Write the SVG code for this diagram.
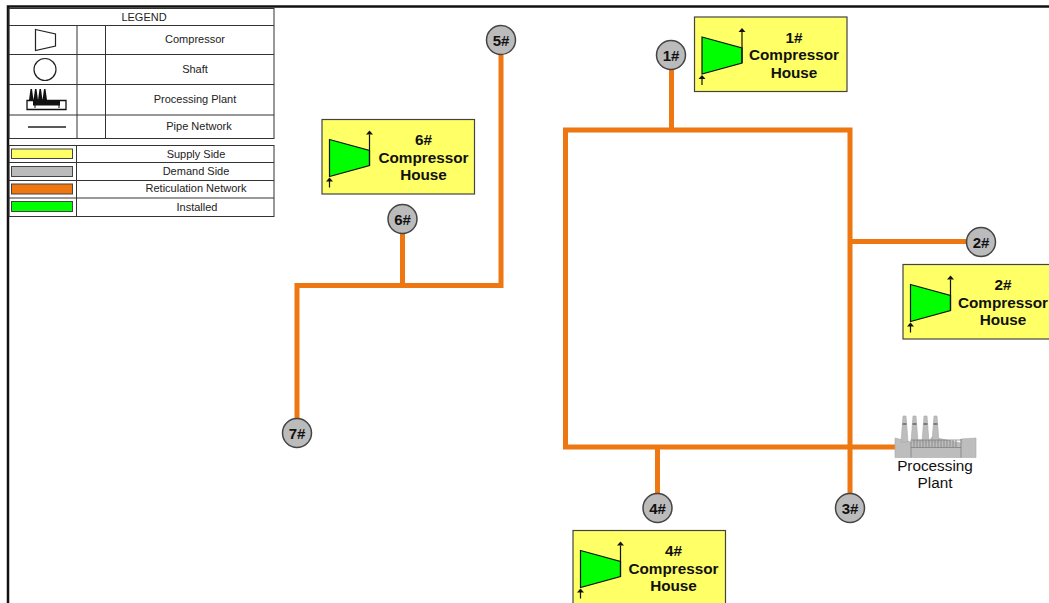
<svg xmlns="http://www.w3.org/2000/svg" xmlns:xlink="http://www.w3.org/1999/xlink" width="1049" height="603" viewBox="0 0 1049 603">
<style>
text{font-family:"Liberation Sans",Arial,sans-serif;text-anchor:middle;fill:#111}
.lg{font-size:11px;fill:#222}
.cell{fill:none;stroke:#333;stroke-width:1}
.pipe{fill:none;stroke:#ee7711;stroke-width:5;stroke-linejoin:miter}
.house{fill:#ffff66;stroke:#444;stroke-width:1.2}
.comp{fill:#00ff00;stroke:#111;stroke-width:1.2}
.ar{fill:none;stroke:#111;stroke-width:1.2}
.head{fill:#111}
.t{font-size:15.300px;font-weight:bold}
.sh{fill:#bbbbbb;stroke:#444;stroke-width:1.500}
.sl{font-size:15px;font-weight:bold}
.fac{fill:#bdbdbd;stroke:#aaa;stroke-width:.6}
.facd{fill:none;stroke:#777;stroke-width:.7}
</style>
<defs>
<g id="ch">
<rect class="house" x="694.500" y="17" width="152.500" height="74.500"/>
<path class="comp" d="M702 37L742 48V63L702 74Z"/>
<path class="ar" d="M742 63V32M702 85V76"/>
<path class="head" d="M738.500 32L742 28L745.500 32ZM698.500 79L702 75L705.500 79Z"/>
</g>
</defs>
<rect width="1049" height="603" fill="#fff"/>
<path d="M8 603V6.500H1049" fill="none" stroke="#111" stroke-width="2.500"/>
<g id="legend">
<rect class="cell" x="9" y="8.500" width="265" height="130"/>
<path class="cell" d="M9 25.500H274M9 54.500H274M9 84.500H274M9 115H274M77 25.500V138.500M105.500 25.500V138.500"/>
<rect class="cell" x="9" y="145.500" width="265" height="71"/>
<path class="cell" d="M9 162.500H274M9 180.500H274M9 198H274M76.500 145.500V216.500"/>
<path d="M35.500 29.500L55.500 34V46L35.500 50.500Z" fill="none" stroke="#222" stroke-width="1.200"/>
<circle cx="45" cy="69.500" r="11" fill="none" stroke="#222" stroke-width="1.200"/>
<g id="legend-plant">
<path d="M27 100.500V109.500H66V100.500Z" fill="#fff" stroke="#111" stroke-width="1.300"/>
<path d="M29 100L30.500 89H32L33.500 100ZM33.500 100L35 89H36.500L38 100ZM38 100L39.500 89H41L42.500 100ZM42.500 100L44 89H45.500L47 100ZM33 100H60V105.500H33Z" fill="#111"/>
<path d="M35 100V108M59 100V108" stroke="#111" stroke-width="1"/>
</g>
<path d="M28 127H66" stroke="#222" stroke-width="1.300"/>
<rect x="11.500" y="149" width="61" height="9.500" fill="#ffff66" stroke="#444"/>
<rect x="11.500" y="166.500" width="61" height="10" fill="#bbbbbb" stroke="#444"/>
<rect x="11.500" y="184" width="61" height="10" fill="#ee7711" stroke="#444"/>
<rect x="11.500" y="201.500" width="61" height="10" fill="#00ff00" stroke="#444"/>
<text class="lg" x="144" y="20.500">LEGEND</text>
<text class="lg" x="195" y="43">Compressor</text>
<text class="lg" x="195" y="73">Shaft</text>
<text class="lg" x="195" y="103">Processing Plant</text>
<text class="lg" x="199" y="129.500">Pipe Network</text>
<text class="lg" x="196" y="158">Supply Side</text>
<text class="lg" x="196" y="175">Demand Side</text>
<text class="lg" x="196" y="192">Reticulation Network</text>
<text class="lg" x="197" y="211">Installed</text>
</g>
<g id="connectors">
<path class="pipe" d="M671.500 69V130M565.500 127.500V130H850V508M565.500 130V447H895M850 241.500H967M657.500 447V495"/>
<path class="pipe" d="M501 54V285.500H297V420M402.500 233V285.500"/>
</g>
<g id="house-1"><use xlink:href="#ch" href="#ch"/><text class="t" x="794" y="42.500">1#</text><text class="t" x="794" y="60">Compressor</text><text class="t" x="794" y="77.500">House</text></g>
<g id="house-6"><use xlink:href="#ch" href="#ch" transform="translate(-372.500 102.500)"/><text class="t" x="423.500" y="145">6#</text><text class="t" x="423.500" y="162.500">Compressor</text><text class="t" x="423.500" y="180">House</text></g>
<g id="house-2"><use xlink:href="#ch" href="#ch" transform="translate(208.500 247.500)"/><text class="t" x="1003" y="290">2#</text><text class="t" x="1003" y="307.500">Compressor</text><text class="t" x="1003" y="325">House</text></g>
<g id="house-4"><use xlink:href="#ch" href="#ch" transform="translate(-121.500 513.500)"/><text class="t" x="673.500" y="556">4#</text><text class="t" x="673.500" y="573.500">Compressor</text><text class="t" x="673.500" y="591">House</text></g>
<g id="shaft-1"><circle class="sh" cx="671" cy="55" r="14.500"/><text class="sl" x="671" y="60.500">1#</text></g>
<g id="shaft-2"><circle class="sh" cx="981" cy="242" r="14.500"/><text class="sl" x="981" y="247.500">2#</text></g>
<g id="shaft-3"><circle class="sh" cx="850" cy="508" r="14.500"/><text class="sl" x="850" y="513.500">3#</text></g>
<g id="shaft-4"><circle class="sh" cx="657.500" cy="508" r="14.500"/><text class="sl" x="657.500" y="513.500">4#</text></g>
<g id="shaft-5"><circle class="sh" cx="501" cy="40" r="14.500"/><text class="sl" x="501" y="45.500">5#</text></g>
<g id="shaft-6"><circle class="sh" cx="402.500" cy="219" r="14.500"/><text class="sl" x="402.500" y="224.500">6#</text></g>
<g id="shaft-7"><circle class="sh" cx="297" cy="433" r="14.500"/><text class="sl" x="297" y="438.500">7#</text></g>
<g id="processing-plant">
<path class="fac" d="M895 438L911 442V440H930L932 437L961 443V439L976 438V457.500H895Z"/>
<path class="fac" d="M901 442L903 416H906L908 442ZM911 442L913 416H916L918 442ZM922 442L924 416H927L929 442ZM932 442L934 416H937L939 442Z"/>
<path d="M902.500 424H906.500M912.500 424H916.500M923.500 424H927.500M933.500 424H937.500" stroke="#666" stroke-width="1.500"/>
<path class="facd" d="M911 440H961M911 447.500H961M911 442V457.500M961 439V457.500M914 440V447M917 440V447M920 440V447M923 440V447M926 440V447M929 440V447M932 440V447M935 440V447M938 440V447M941 440V447M944 440V447M947 440V447M950 440V447M953 440V447M956 440V447"/>
<text x="935" y="471" font-size="15.300" fill="#222">Processing</text>
<text x="935" y="488" font-size="15.300" fill="#222">Plant</text>
</g>
</svg>
